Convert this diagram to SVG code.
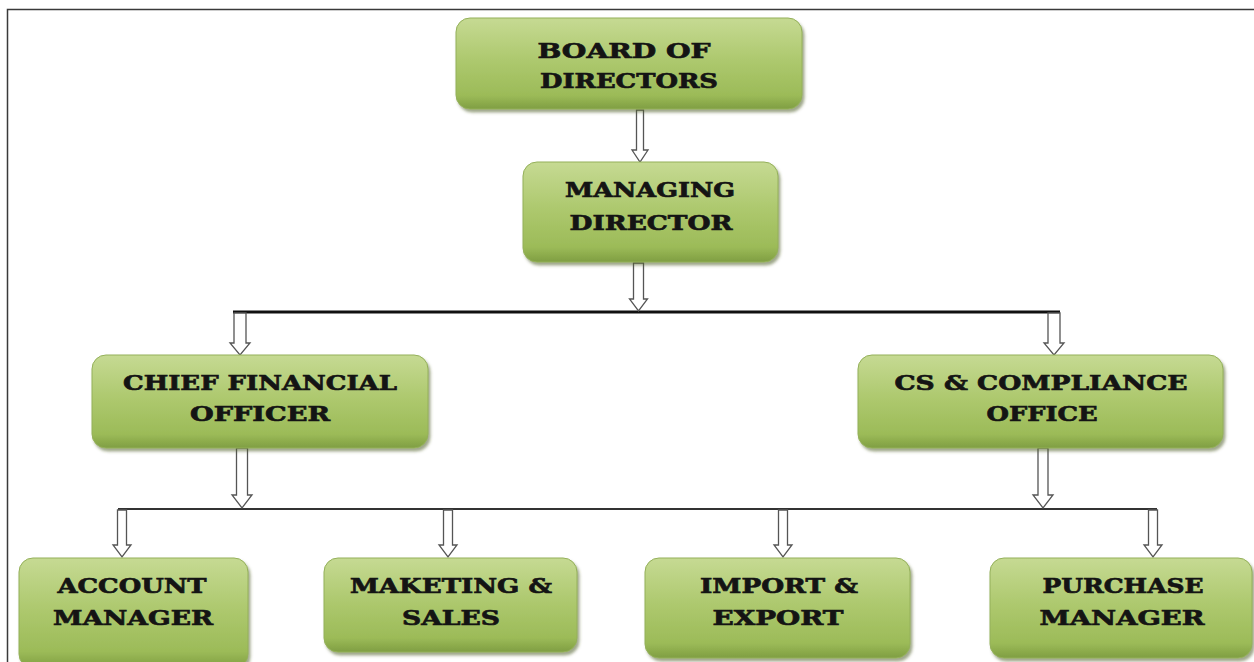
<svg xmlns="http://www.w3.org/2000/svg" width="1254" height="662" viewBox="0 0 1254 662">
<defs>
<linearGradient id="g" x1="0" y1="0" x2="0" y2="1">
<stop offset="0" stop-color="#c6da93"/>
<stop offset="0.45" stop-color="#aec96f"/>
<stop offset="0.85" stop-color="#9cbb58"/>
<stop offset="1" stop-color="#7f9e42"/>
</linearGradient>
<filter id="sh" x="-5%" y="-5%" width="110%" height="120%">
<feDropShadow dx="2" dy="3" stdDeviation="1.8" flood-color="#4f6128" flood-opacity="0.55"/>
</filter>
<style>
.box{fill:url(#g);stroke:#94b05a;stroke-width:1;filter:url(#sh)}
.t{font-family:"DejaVu Serif","Liberation Serif",serif;font-weight:bold;font-size:21px;fill:#141414;stroke:#141414;stroke-width:0.7;text-anchor:middle}
.arr{fill:#ffffff;stroke:#555555;stroke-width:1.3;stroke-linejoin:miter}
.bus{stroke:#111111;stroke-width:3;fill:none}
.bus2{stroke:#333333;stroke-width:2;fill:none}
.frame{fill:none;stroke:#3a3a3a;stroke-width:1.5}
</style>
</defs>
<rect width="1254" height="662" fill="#ffffff"/>
<path class="frame" d="M7.5,662 V9.5 H1254"/>

<g id="connectors">
<line class="bus" x1="233" y1="312" x2="1060" y2="312"/>
<line class="bus2" x1="118" y1="509" x2="1157" y2="509"/>
<polygon class="arr" points="636.5,110 643.5,110 643.5,150 648,150 640,162 632,150 636.5,150"/>
<polygon class="arr" points="633.5,263 643.5,263 643.5,299 647.5,299 638.5,311 629.5,299 633.5,299"/>
<polygon class="arr" points="234,313 246,313 246,343 250,343 240,355 230,343 234,343"/>
<polygon class="arr" points="1048,313 1060,313 1060,343 1064,343 1054,355 1044,343 1048,343"/>
<polygon class="arr" points="236.5,448 247.5,448 247.5,495 252,495 242,508 232,495 236.5,495"/>
<polygon class="arr" points="1038,448 1048,448 1048,495 1053,495 1043,508 1033,495 1038,495"/>
<polygon class="arr" points="117.5,510 126.5,510 126.5,545 131,545 122,557 113,545 117.5,545"/>
<polygon class="arr" points="443.5,510 452.5,510 452.5,545 457,545 448,557 439,545 443.5,545"/>
<polygon class="arr" points="778.5,510 787.5,510 787.5,545 792,545 783,557 774,545 778.5,545"/>
<polygon class="arr" points="1148.5,510 1157.5,510 1157.5,545 1162,545 1153,557 1144,545 1148.5,545"/>
</g>

<g id="board">
<rect class="box" x="456" y="18" width="346" height="91" rx="14"/>
<text class="t" x="624" y="58" textLength="173" lengthAdjust="spacingAndGlyphs">BOARD OF</text>
<text class="t" x="629" y="88" textLength="178" lengthAdjust="spacingAndGlyphs">DIRECTORS</text>
</g>
<g id="md">
<rect class="box" x="523" y="162" width="255" height="100" rx="14"/>
<text class="t" x="650" y="197" textLength="170" lengthAdjust="spacingAndGlyphs">MANAGING</text>
<text class="t" x="651" y="230" textLength="163" lengthAdjust="spacingAndGlyphs">DIRECTOR</text>
</g>
<g id="cfo">
<rect class="box" x="92" y="355" width="336" height="93" rx="14"/>
<text class="t" x="260" y="390" textLength="274" lengthAdjust="spacingAndGlyphs">CHIEF FINANCIAL</text>
<text class="t" x="260" y="421" textLength="140" lengthAdjust="spacingAndGlyphs">OFFICER</text>
</g>
<g id="cs">
<rect class="box" x="858" y="355" width="365" height="93" rx="14"/>
<text class="t" x="1041" y="390" textLength="293" lengthAdjust="spacingAndGlyphs">CS &amp; COMPLIANCE</text>
<text class="t" x="1042" y="421" textLength="111" lengthAdjust="spacingAndGlyphs">OFFICE</text>
</g>
<g id="account">
<rect class="box" x="19" y="558" width="229" height="110" rx="14"/>
<text class="t" x="132" y="593" textLength="149" lengthAdjust="spacingAndGlyphs">ACCOUNT</text>
<text class="t" x="133" y="625" textLength="160" lengthAdjust="spacingAndGlyphs">MANAGER</text>
</g>
<g id="marketing">
<rect class="box" x="324" y="558" width="253" height="94" rx="14"/>
<text class="t" x="451" y="593" textLength="202" lengthAdjust="spacingAndGlyphs">MAKETING &amp;</text>
<text class="t" x="451" y="625" textLength="98" lengthAdjust="spacingAndGlyphs">SALES</text>
</g>
<g id="import">
<rect class="box" x="645" y="558" width="265" height="100" rx="14"/>
<text class="t" x="779" y="593" textLength="158" lengthAdjust="spacingAndGlyphs">IMPORT &amp;</text>
<text class="t" x="778" y="625" textLength="131" lengthAdjust="spacingAndGlyphs">EXPORT</text>
</g>
<g id="purchase">
<rect class="box" x="990" y="558" width="262" height="100" rx="14"/>
<text class="t" x="1123" y="593" textLength="161" lengthAdjust="spacingAndGlyphs">PURCHASE</text>
<text class="t" x="1122" y="625" textLength="165" lengthAdjust="spacingAndGlyphs">MANAGER</text>
</g>
</svg>
